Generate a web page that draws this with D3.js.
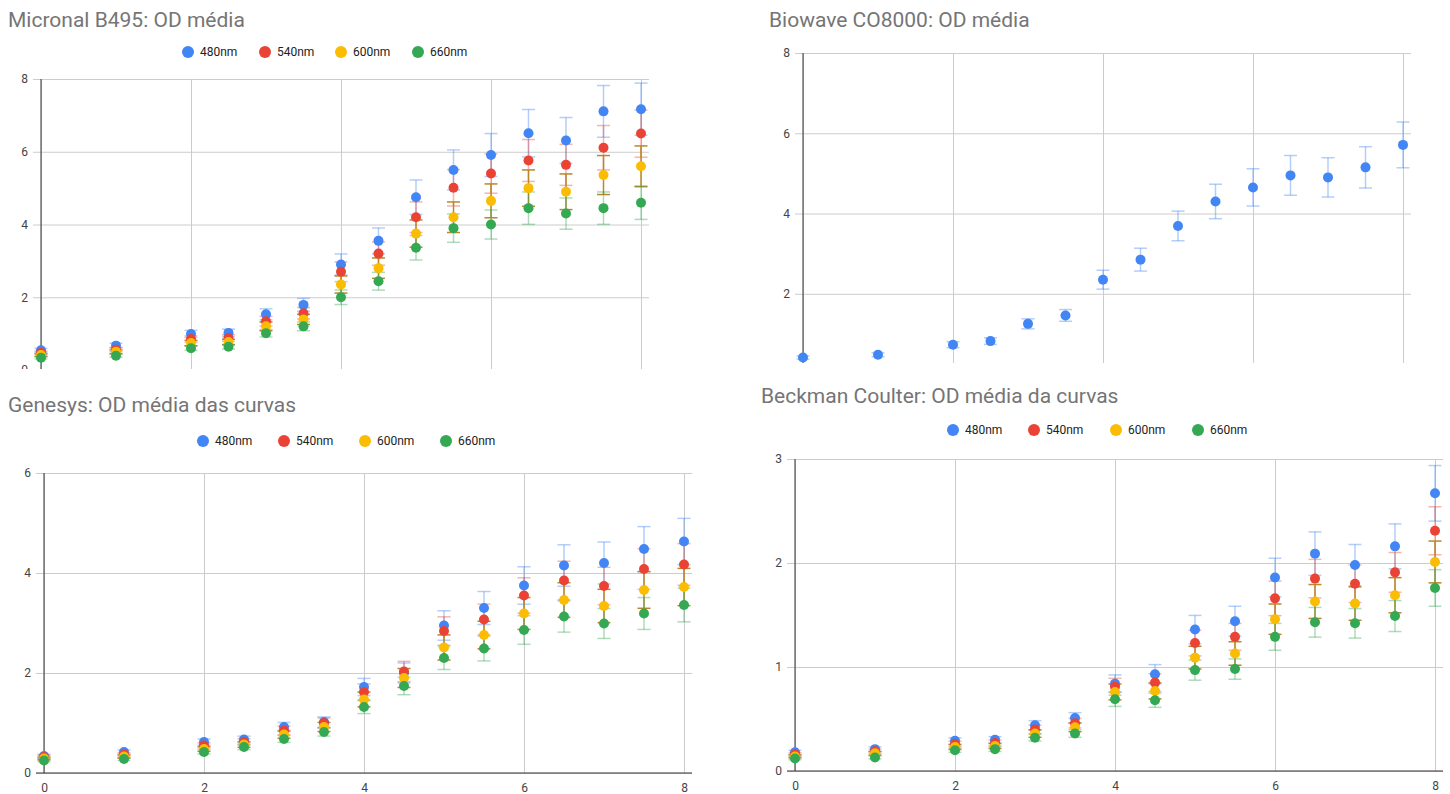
<!DOCTYPE html>
<html>
<head>
<meta charset="utf-8">
<script src="https://cdn.jsdelivr.net/npm/d3@7"></script>
<style>
  body { margin: 0; background: #fff; }
  svg { display: block; font-family: Roboto, Arial, sans-serif; }
</style>
</head>
<body>
<script>
// time points (x) shared by all four charts
const xValues = [0, 1, 2, 2.5, 3, 3.5, 4, 4.5, 5, 5.5, 6, 6.5, 7, 7.5, 8];
const xTicks = [0, 2, 4, 6, 8];
const wavelengths = ["480nm", "540nm", "600nm", "660nm"];

// error bars are a constant percentage of each value (10%)
const errorPercent = 0.1;

// Micronal B495
const micronal480 = [0.54, 0.67, 0.99, 1.02, 1.53, 1.79, 2.9, 3.55, 4.75, 5.5, 5.91, 6.51, 6.31, 7.11, 7.17];
const micronal540 = [0.47, 0.56, 0.85, 0.88, 1.34, 1.56, 2.7, 3.2, 4.2, 5.01, 5.4, 5.76, 5.64, 6.11, 6.5];
const micronal600 = [0.41, 0.5, 0.74, 0.77, 1.2, 1.39, 2.35, 2.8, 3.75, 4.2, 4.65, 5.0, 4.9, 5.36, 5.6];
const micronal660 = [0.34, 0.39, 0.6, 0.64, 1.01, 1.2, 2.0, 2.44, 3.36, 3.9, 4.0, 4.45, 4.3, 4.45, 4.6];
const micronalTicks = [0, 2, 4, 6, 8];

// Biowave CO8000 (only 480nm)
const biowave480 = [0.41, 0.48, 0.73, 0.82, 1.25, 1.46, 2.35, 2.85, 3.69, 4.3, 4.65, 4.95, 4.9, 5.15, 5.71];
const biowaveTicks = [0, 2, 4, 6, 8];

// Genesys
const genesys480 = [0.34, 0.42, 0.62, 0.67, 0.92, 1.02, 1.72, 2.0, 2.95, 3.3, 3.75, 4.15, 4.2, 4.48, 4.63];
const genesys540 = [0.32, 0.37, 0.55, 0.62, 0.85, 1.0, 1.62, 2.03, 2.84, 3.07, 3.55, 3.85, 3.74, 4.08, 4.17];
const genesys600 = [0.29, 0.33, 0.48, 0.57, 0.77, 0.92, 1.47, 1.9, 2.51, 2.76, 3.19, 3.46, 3.34, 3.66, 3.72];
const genesys660 = [0.25, 0.28, 0.42, 0.52, 0.68, 0.82, 1.32, 1.74, 2.3, 2.49, 2.86, 3.13, 2.99, 3.19, 3.36];
const genesysTicks = [0, 2, 4, 6];

// Beckman Coulter
const beckman480 = [0.18, 0.21, 0.29, 0.3, 0.44, 0.51, 0.84, 0.93, 1.36, 1.44, 1.86, 2.09, 1.98, 2.16, 2.67];
const beckman540 = [0.16, 0.19, 0.26, 0.27, 0.4, 0.46, 0.81, 0.85, 1.23, 1.29, 1.66, 1.85, 1.8, 1.91, 2.31];
const beckman600 = [0.14, 0.17, 0.23, 0.24, 0.36, 0.42, 0.76, 0.77, 1.09, 1.13, 1.46, 1.63, 1.61, 1.69, 2.01];
const beckman660 = [0.12, 0.13, 0.2, 0.21, 0.32, 0.36, 0.69, 0.68, 0.97, 0.98, 1.29, 1.43, 1.42, 1.49, 1.76];
const beckmanTicks = [0, 1, 2, 3];

const seriesColours = ["#4285f4", "#ea4335", "#fbbc04", "#34a853"];
const errorColours = ["rgba(66,133,244,0.4)", "rgba(234,67,53,0.4)", "#b8882a", "rgba(52,168,83,0.4)"];

const svg = d3.select("body").append("svg")
    .attr("width", 1450)
    .attr("height", 794);
const defs = svg.append("defs");

const drawPanel = (p) => {
    defs.append("clipPath").attr("id", "clip-" + p.id)
        .append("rect")
        .attr("x", p.clip[0]).attr("y", p.clip[1])
        .attr("width", p.clip[2]).attr("height", p.clip[3]);

    const g = svg.append("g").attr("clip-path", `url(#clip-${p.id})`);

    const x = d3.scaleLinear().domain([0, 8]).range([p.x0, p.x8]);
    const y = d3.scaleLinear().domain([0, d3.max(p.yTicks)]).range([p.y0, p.yTop]);
    const left = p.x0 - 8, right = p.x8 + 8;

    //title
    g.append("text")
        .attr("x", p.titleX).attr("y", p.titleY)
        .attr("fill", "#757575")
        .style("font-size", "21px")
        .text(p.title);

    //legend
    if (p.legendX) {
        const item = g.selectAll(".legend-item")
            .data(p.legendX).enter()
            .append("g")
            .attr("transform", (d) => `translate(${d}, ${p.legendY})`);
        item.append("circle").attr("r", 6).attr("fill", (d, i) => seriesColours[i]);
        item.append("text")
            .attr("x", 12).attr("dy", "0.35em")
            .attr("fill", "#222")
            .style("font-size", "12px")
            .text((d, i) => wavelengths[i]);
    }

    //horizontal gridlines + y labels
    g.append("g")
        .attr("transform", `translate(${left}, 0)`)
        .call(d3.axisLeft(y).tickValues(p.yTicks).tickSize(-(right - left)).tickPadding(5).tickFormat(d3.format("d")))
        .call((a) => a.select(".domain").remove())
        .call((a) => a.selectAll("line").attr("stroke", "#cccccc"))
        .call((a) => a.selectAll("text").attr("fill", "#444").style("font-size", "12px").style("font-family", "Roboto, Arial, sans-serif"));

    //vertical gridlines + x labels (the top charts are cropped above their labels)
    g.append("g")
        .attr("transform", `translate(0, ${p.y0})`)
        .call(d3.axisBottom(x).tickValues(xTicks).tickSize(-(p.y0 - p.yTop)).tickPadding(10)
            .tickFormat(p.xLabels ? d3.format("d") : () => ""))
        .call((a) => a.select(".domain").remove())
        .call((a) => a.selectAll("line").attr("stroke", "#cccccc"))
        .call((a) => a.selectAll("text").attr("fill", "#444").style("font-size", "12px").style("font-family", "Roboto, Arial, sans-serif"));

    //axis lines
    g.append("line")
        .attr("x1", x(0)).attr("x2", x(0))
        .attr("y1", p.yTop).attr("y2", p.y0)
        .attr("stroke", "#333");
    g.append("line")
        .attr("x1", left).attr("x2", right)
        .attr("y1", y(0)).attr("y2", y(0))
        .attr("stroke", "#333");

    //error bars first, then points
    p.series.forEach((values, s) => {
        const bar = g.append("g").selectAll("g")
            .data(values).enter()
            .append("g")
            .attr("stroke", errorColours[s])
            .attr("stroke-width", 1.5);
        const lo = (v) => y(v * (1 - errorPercent));
        const hi = (v) => y(v * (1 + errorPercent));
        bar.append("line")
            .attr("x1", (d, i) => x(xValues[i])).attr("x2", (d, i) => x(xValues[i]))
            .attr("y1", lo).attr("y2", hi);
        bar.append("line")
            .attr("x1", (d, i) => x(xValues[i]) - 6.5).attr("x2", (d, i) => x(xValues[i]) + 6.5)
            .attr("y1", lo).attr("y2", lo);
        bar.append("line")
            .attr("x1", (d, i) => x(xValues[i]) - 6.5).attr("x2", (d, i) => x(xValues[i]) + 6.5)
            .attr("y1", hi).attr("y2", hi);
    });

    p.series.forEach((values, s) => {
        g.append("g").selectAll("circle")
            .data(values).enter()
            .append("circle")
            .attr("cx", (d, i) => x(xValues[i]))
            .attr("cy", (d) => y(d))
            .attr("r", 5)
            .attr("fill", seriesColours[s]);
    });
};

drawPanel({
    id: "micronal", title: "Micronal B495: OD média",
    clip: [0, 0, 725, 369],
    titleX: 8, titleY: 27,
    legendX: [188, 265, 341, 418], legendY: 52,
    x0: 41, x8: 641, y0: 370, yTop: 79,
    yTicks: micronalTicks, xLabels: false,
    series: [micronal480, micronal540, micronal600, micronal660]
});

drawPanel({
    id: "biowave", title: "Biowave CO8000: OD média",
    clip: [725, 0, 725, 363],
    titleX: 769, titleY: 27,
    x0: 803, x8: 1403, y0: 374, yTop: 53,
    yTicks: biowaveTicks, xLabels: false,
    series: [biowave480]
});

drawPanel({
    id: "genesys", title: "Genesys: OD média das curvas",
    clip: [0, 380, 725, 414],
    titleX: 8, titleY: 412,
    legendX: [203, 284, 365, 446], legendY: 441,
    x0: 44, x8: 684, y0: 773, yTop: 473,
    yTicks: genesysTicks, xLabels: true,
    series: [genesys480, genesys540, genesys600, genesys660]
});

drawPanel({
    id: "beckman", title: "Beckman Coulter: OD média da curvas",
    clip: [725, 380, 725, 414],
    titleX: 761, titleY: 403,
    legendX: [953, 1034, 1116, 1198], legendY: 430,
    x0: 795, x8: 1435, y0: 771, yTop: 459,
    yTicks: beckmanTicks, xLabels: true,
    series: [beckman480, beckman540, beckman600, beckman660]
});
</script>
</body>
</html>
